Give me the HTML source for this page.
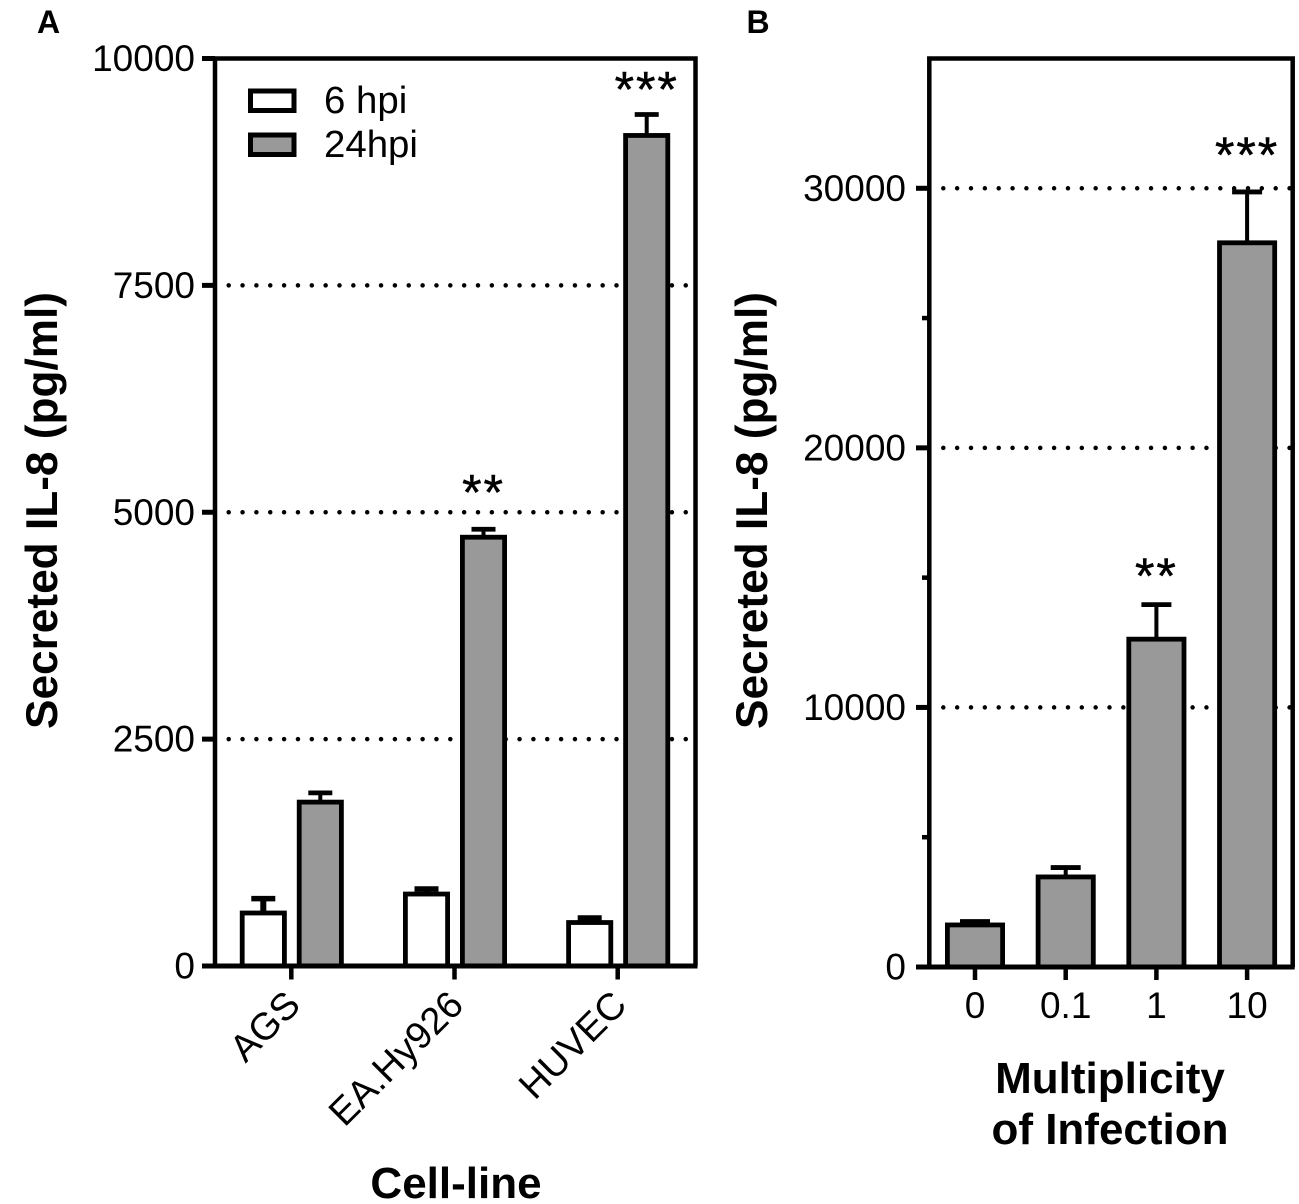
<!DOCTYPE html>
<html lang="en">
<head>
<meta charset="utf-8">
<title>Secreted IL-8 bar charts</title>
<style>
html,body{margin:0;padding:0;background:#fff;width:1299px;height:1204px;overflow:hidden}
svg{display:block}
text{font-family:"Liberation Sans",Arial,sans-serif;fill:#000}
.tick{font-size:37px}
.legend-text{font-size:38.4px}
.cat{font-size:38px}
.title{font-size:44px;font-weight:bold}
.ytitle{font-size:44.2px;font-weight:bold}
.panel{font-size:32px;font-weight:bold}
.star{font-size:50px;letter-spacing:1.9px;stroke:#000;stroke-width:.5px}
</style>
</head>
<body>
<svg id="chart" xmlns="http://www.w3.org/2000/svg" width="1299" height="1204" viewBox="0 0 1299 1204">
  <text class="panel" x="37" y="33">A</text>
  <text class="panel" x="746.5" y="33">B</text>
  <g id="panelA"></g>
  <g id="panelB"></g>
  <text class="ytitle" transform="translate(57,510.5) rotate(-90)" text-anchor="middle">Secreted IL-8 (pg/ml)</text>
  <text class="ytitle" transform="translate(767,510.5) rotate(-90)" text-anchor="middle">Secreted IL-8 (pg/ml)</text>
  <text class="title" x="456" y="1198" text-anchor="middle">Cell-line</text>
  <text class="title" x="1110" y="1093" text-anchor="middle">Multiplicity</text>
  <text class="title" x="1110" y="1144" text-anchor="middle">of Infection</text>
  <g>
    <rect x="250.5" y="91" width="43.5" height="19.5" fill="#fff" stroke="#000" stroke-width="5"/>
    <text class="legend-text" x="324" y="113">6 hpi</text>
    <rect x="250.5" y="135" width="43.5" height="19.5" fill="#999" stroke="#000" stroke-width="5"/>
    <text class="legend-text" x="324" y="157">24hpi</text>
  </g>
</svg>
<script>
// Panel A data
const cellLines = ["AGS", "EA.Hy926", "HUVEC"];
const sixHpiValues = [584, 793, 479];
const sixHpiUpper = [743, 848, 529];
const twentyFourHpiValues = [1806, 4725, 9152];
const twentyFourHpiUpper = [1908, 4813, 9383];
const panelASignificance = ["", "**", "***"];
const panelASignificanceLevel = [0, 5308, 9747];
const panelATicks = [0, 2500, 5000, 7500, 10000];
const panelAGridValues = [2500, 5000, 7500];
const panelAMax = [10000];

// Panel B data
const moiLabels = ["0", "0.1", "1", "10"];
const moiValues = [1620, 3470, 12630, 27900];
const moiUpper = [1750, 3830, 13960, 29860];
const panelBSignificance = ["", "", "**", "***"];
const panelBSignificanceLevel = [0, 0, 15370, 31590];
const panelBTicks = [0, 10000, 20000, 30000];
const panelBMinorTicks = [5000, 15000, 25000];
const panelBGridValues = [10000, 20000, 30000];
const panelBMax = [35000];

const SVGNS = "http://www.w3.org/2000/svg";
const STAR_BASELINE_OFFSET = 25;
function make(parent, tag, attrs, content) {
  const el = document.createElementNS(SVGNS, tag);
  for (const k in attrs) el.setAttribute(k, attrs[k]);
  if (content !== undefined) el.textContent = content;
  parent.appendChild(el);
  return el;
}
function slug(s) {
  return String(s).toLowerCase().replace(/[^a-z0-9]+/g, "-");
}

// ---- Panel A ----
const gA = document.getElementById("panelA");
const aLeft = 215, aRight = 695.5, aTop = 58.5, aBottom = 966;
const yA = v => aBottom - (v / panelAMax[0]) * (aBottom - aTop);
const xA = i => 291.3 + i * 163.2;

panelAGridValues.forEach(v => {
  const line = make(gA, "line", {x1: 228.7, x2: 690, y1: yA(v), y2: yA(v), stroke: "#000", "stroke-width": 4.5, "stroke-linecap": "round", "stroke-dasharray": "0 13.85"});
  
  
});

function drawBar(group, cx, width, yTop, yCap, capWidth, base, fill, name, stemWidth, capThickness) {
  const rect = make(group, "rect", {x: cx - width / 2, y: yTop, width: width, height: base - yTop, fill: fill, stroke: "#000", "stroke-width": 4.8});
  
  
  const stem = make(group, "line", {x1: cx, x2: cx, y1: yTop, y2: yCap, stroke: "#000", "stroke-width": stemWidth});
  
  
  const cap = make(group, "line", {x1: cx - capWidth / 2, x2: cx + capWidth / 2, y1: yCap, y2: yCap, stroke: "#000", "stroke-width": capThickness});
  
  
}

cellLines.forEach((label, i) => {
  drawBar(gA, xA(i) - 28, 42.2, yA(sixHpiValues[i]), yA(sixHpiUpper[i]), 24, aBottom, "#fff", "bar-6-hpi-" + slug(label), 6, 5.5);
  drawBar(gA, xA(i) + 29, 42.2, yA(twentyFourHpiValues[i]), yA(twentyFourHpiUpper[i]), 24, aBottom, "#999", "bar-24-hpi-" + slug(label), 4, 4.8);
  const sig = panelASignificance[i];
  if (sig) {
    const star = make(gA, "text", {class: "star", x: xA(i) + 29, y: yA(panelASignificanceLevel[i]) + STAR_BASELINE_OFFSET, "text-anchor": "middle"}, sig);
    
    
  }
  const tick = make(gA, "line", {x1: xA(i), x2: xA(i), y1: aBottom, y2: 979.5, stroke: "#000", "stroke-width": 4.5});
  
  
  const lx = xA(i) + 11, ly = 1007;
  const text = make(gA, "text", {class: "cat", "text-anchor": "end", transform: "translate(" + lx + "," + ly + ") rotate(-45)"}, label);
  
  
});

const frameA = make(gA, "path", {d: "M" + aLeft + " " + aBottom + "V" + aTop + "H" + aRight + "V" + aBottom, fill: "none", stroke: "#000", "stroke-width": 4.5});


const baseA = make(gA, "line", {x1: 202, x2: aRight + 2, y1: aBottom, y2: aBottom, stroke: "#000", "stroke-width": 5});



panelATicks.forEach(v => {
  const t = make(gA, "line", {x1: 202, x2: aLeft, y1: yA(v), y2: yA(v), stroke: "#000", "stroke-width": 5});
  
  
  const l = make(gA, "text", {class: "tick", x: 195, y: yA(v) + 12.5, "text-anchor": "end"}, String(v));
  
  
});

// ---- Panel B ----
const gB = document.getElementById("panelB");
const bLeft = 929.3, bRight = 1292.7, bTop = 58.5, bBottom = 967;
const yB = v => bBottom - (v / panelBMax[0]) * (bBottom - bTop);
const xB = i => 975 + i * 90.7;

panelBGridValues.forEach(v => {
  const line = make(gB, "line", {x1: 943.3, x2: bRight - 1, y1: yB(v), y2: yB(v), stroke: "#000", "stroke-width": 4.5, "stroke-linecap": "round", "stroke-dasharray": "0 13.85"});
  
  
});

moiLabels.forEach((label, i) => {
  drawBar(gB, xB(i), 55.2, yB(moiValues[i]), yB(moiUpper[i]), 30, bBottom, "#999", "bar-moi-" + slug(label), 4, 4.8);
  const sig = panelBSignificance[i];
  if (sig) {
    const star = make(gB, "text", {class: "star", x: xB(i), y: yB(panelBSignificanceLevel[i]) + STAR_BASELINE_OFFSET, "text-anchor": "middle"}, sig);
    
    
  }
  const tick = make(gB, "line", {x1: xB(i), x2: xB(i), y1: bBottom, y2: 980, stroke: "#000", "stroke-width": 4.5});
  
  
  const text = make(gB, "text", {class: "tick", x: xB(i), y: 1018, "text-anchor": "middle"}, label);
  
  
});

const frameB = make(gB, "path", {d: "M" + bLeft + " " + bBottom + "V" + bTop + "H" + bRight + "V" + bBottom, fill: "none", stroke: "#000", "stroke-width": 4.5});


const baseB = make(gB, "line", {x1: 916, x2: bRight + 2, y1: bBottom, y2: bBottom, stroke: "#000", "stroke-width": 5});



panelBMinorTicks.forEach(v => {
  const t = make(gB, "line", {x1: 922, x2: bLeft, y1: yB(v), y2: yB(v), stroke: "#000", "stroke-width": 4.5});
  
  
});
panelBTicks.forEach(v => {
  const t = make(gB, "line", {x1: 916, x2: bLeft, y1: yB(v), y2: yB(v), stroke: "#000", "stroke-width": 5});
  
  
  const l = make(gB, "text", {class: "tick", x: 906, y: yB(v) + 12.5, "text-anchor": "end"}, String(v));
  
  
});
</script>
</body>
</html>
